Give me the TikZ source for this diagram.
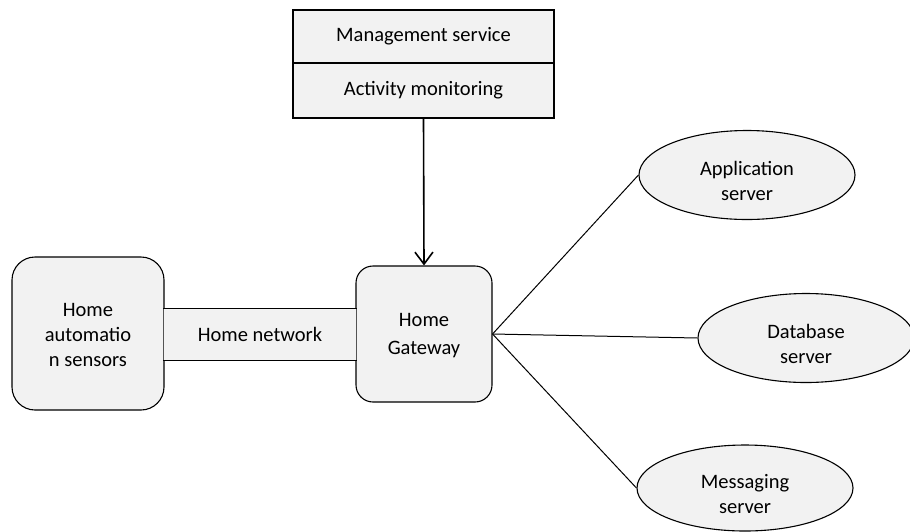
\documentclass[tikz,border=0pt]{standalone}
\usepackage{fontspec}
\setmainfont{Carlito}
\usetikzlibrary{arrows.meta,shapes.geometric}

\begin{document}
\begin{tikzpicture}[
x=1pt, y=-1pt,
box/.style={draw, fill=gray!10, line width=1.1pt, inner sep=0pt,
  align=center, font=\fontsize{20.5}{25}\selectfont},
service/.style={box, rectangle, line width=2pt, minimum width=261pt},
server/.style={box, ellipse, minimum width=216pt, minimum height=89pt},
label/.style={align=center, font=\fontsize{20.5}{25}\selectfont}
]
\useasboundingbox (0,0) rectangle (910,531);

% management side
\node[service, minimum height=53pt] (mgmt) at (423.5,36.5) {Management service};
\node[service, minimum height=55pt] (act) at (423.5,90.5) {Activity monitoring};

% home side
\node[box, rounded corners=23pt, minimum width=152pt, minimum height=153pt] (sens) at (88,333.5) {};
\node[label] (senstxt) at (88,335) {Home\\automatio\\n sensors};
\node[box, rounded corners=17pt, minimum width=136pt, minimum height=136pt] (gw) at (424,334) {};
\node[label, font=\fontsize{20.5}{28}\selectfont] (gwtxt) at (424,336) {Home\\Gateway};
\node[box, draw=none, minimum width=192pt, minimum height=51pt] (net) at (260,334.5) {Home network};
\draw[line width=1.1pt] (net.north west) -- (net.north east);
\draw[line width=1.1pt] (net.south west) -- (net.south east);

\draw[line width=1.6pt, -{Straight Barb[length=12pt,width=18pt]}] (act.south) -- (gw.north);

% servers
\node[server] (app) at (747,175) {};
\node[label] (apptxt) at (747,181) {Application\\server};
\node[server] (db) at (806,338) {};
\node[label] (dbtxt) at (806,344) {Database\\server};
\node[server, minimum height=86pt] (msg) at (745,488) {};
\node[label] (msgtxt) at (745,494) {Messaging\\server};

\draw[line width=1pt] (gw.east) -- (app.west);
\draw[line width=1pt] (gw.east) -- (db.west);
\draw[line width=1pt] (gw.east) -- (msg.west);
\end{tikzpicture}
\end{document}
